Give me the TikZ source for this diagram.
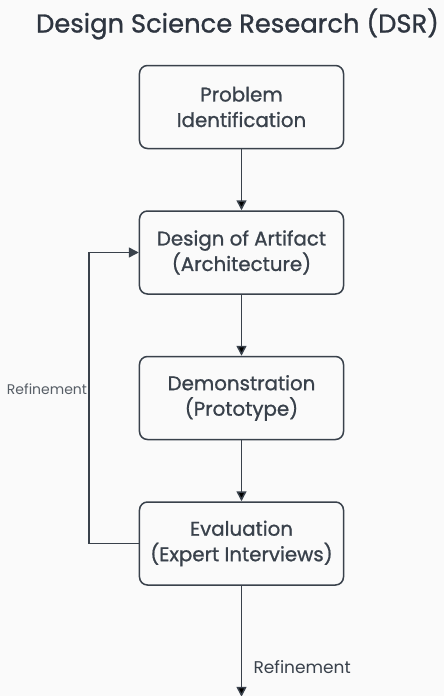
\documentclass[tikz,border=0pt]{standalone}
\usepackage{fontspec}
\setmainfont{Poppins}
\newfontfamily\medfont{Poppins}[FakeBold=1]
\usepackage{tikz}
\usetikzlibrary{positioning, arrows.meta, calc}

\definecolor{ink}{HTML}{39414B}
\definecolor{headink}{HTML}{2E3540}
\definecolor{paper}{HTML}{FAFAFA}

\begin{document}
\begin{tikzpicture}[x=1pt, y=1pt, -, >={Triangle[length=10pt,width=10pt]},
     line width=1.5pt, ampersand replacement=\&]

  \fill[paper] (0,0) rectangle (444,-696);
  \useasboundingbox (0,0) rectangle (444,-696);

  \node[anchor=base, text=headink, font=\medfont\fontsize{25.8}{30}\selectfont] (title) at (237.5,-32.5) {Design Science Research (DSR)};

  \matrix[anchor=north, inner sep=0pt, nodes={draw=ink, fill=none, text=ink, shape=rectangle, rounded corners=8pt, minimum height=83pt, minimum width=204pt, align=center, font=\medfont\fontsize{19.8}{25.5}\selectfont}, row sep=61pt] (flow) at (241.5,-64) {
   \node (prob) {Problem\\Identification}; \\
   \node (design) {Design of Artifact\\(Architecture)}; \\
   \node (demo) {Demonstration\\(Prototype)}; \\
   \node (eval) {Evaluation\\(Expert Interviews)}; \\
  };

  \coordinate[left=50pt of design.west] (auxtop);
  \coordinate[left=50pt of eval.west] (auxbot);
  \coordinate[below=111pt of eval.south] (end);

  \path[->, draw=ink]
   (prob) edge (design)
   (design) edge (demo)
   (demo) edge (eval)
   (eval) edge node[right, pos=.73, xshift=8pt, text=ink, font=\fontsize{17}{20}\selectfont] {Refinement} (end);
  \draw[->, ink] (eval.west) -- (auxbot) -- node[left, pos=.53, inner sep=1pt, text=ink!85, font=\fontsize{14}{16}\selectfont] {Refinement} (auxtop) -- (design.west);
 \end{tikzpicture}
\end{document}
